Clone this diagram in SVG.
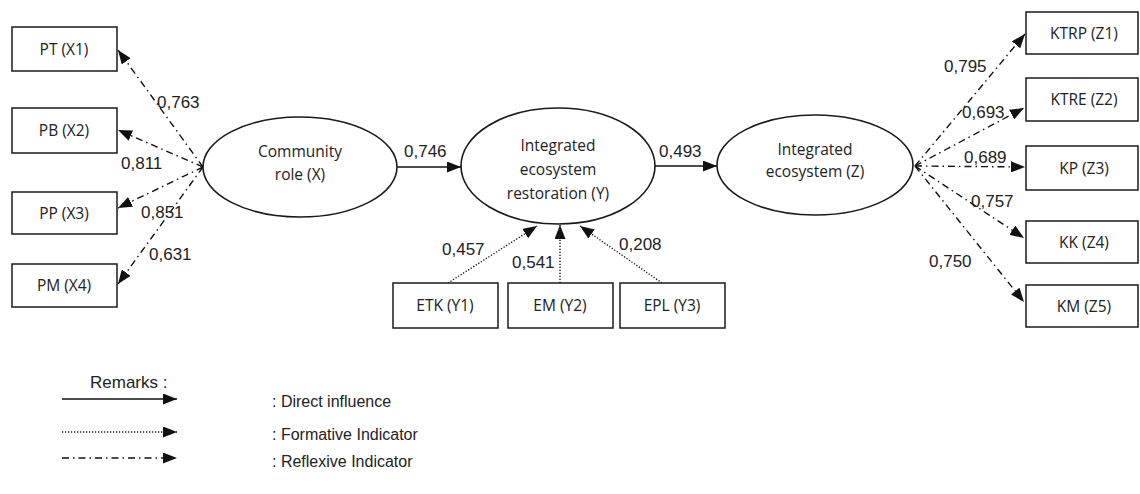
<svg xmlns="http://www.w3.org/2000/svg" width="1140" height="494" viewBox="0 0 1140 494">
<style>
.box{fill:#fff;stroke:#1a1a1a;stroke-width:1.5}
.ell{fill:#fff;stroke:#1a1a1a;stroke-width:1.6}
.nt{font-family:"Open Sans","Noto Sans",sans-serif;font-size:15.5px;fill:#222;text-anchor:middle}
.lb{font-family:"Liberation Sans",Arial,sans-serif;font-size:17px;fill:#222}
.lg{font-family:"Liberation Sans",Arial,sans-serif;font-size:16px;fill:#222}
.solid{stroke:#111;stroke-width:1.6;fill:none}
.dot{stroke:#111;stroke-width:1.4;fill:none;stroke-dasharray:1.2 1.8}
.dd{stroke:#111;stroke-width:1.4;fill:none;stroke-dasharray:7 4 1.5 4}
</style>
<defs>
<marker id="ah" viewBox="0 0 14 11" refX="14" refY="5.5" markerWidth="14" markerHeight="11" markerUnits="userSpaceOnUse" orient="auto">
<path d="M0,0 L14,5.5 L0,11 z" fill="#111"/>
</marker>
</defs>

<g id="connectors">
<line class="dd" x1="203" y1="167" x2="118" y2="50" marker-end="url(#ah)"/>
<line class="dd" x1="203" y1="167" x2="118" y2="130" marker-end="url(#ah)"/>
<line class="dd" x1="203" y1="167" x2="118" y2="208" marker-end="url(#ah)"/>
<line class="dd" x1="203" y1="167" x2="118" y2="284" marker-end="url(#ah)"/>
<line class="solid" x1="397" y1="167" x2="461" y2="167" marker-end="url(#ah)"/>
<line class="solid" x1="655" y1="166" x2="717" y2="166" marker-end="url(#ah)"/>
<line class="dot" x1="448" y1="283" x2="537" y2="226" marker-end="url(#ah)"/>
<line class="dot" x1="560" y1="283" x2="560" y2="225" marker-end="url(#ah)"/>
<line class="dot" x1="662" y1="283" x2="580" y2="226" marker-end="url(#ah)"/>
<line class="dd" x1="915" y1="166" x2="1025" y2="34" marker-end="url(#ah)"/>
<line class="dd" x1="915" y1="166" x2="1024" y2="108" marker-end="url(#ah)"/>
<line class="dd" x1="915" y1="166" x2="1025" y2="167" marker-end="url(#ah)"/>
<line class="dd" x1="915" y1="166" x2="1024" y2="238" marker-end="url(#ah)"/>
<line class="dd" x1="915" y1="166" x2="1024" y2="302" marker-end="url(#ah)"/>
</g>

<g id="X1"><rect class="box" x="12" y="27" width="105" height="44"/><text class="nt" x="64" y="55">PT (X1)</text></g>
<g id="X2"><rect class="box" x="12" y="108" width="105" height="45"/><text class="nt" x="64" y="136">PB (X2)</text></g>
<g id="X3"><rect class="box" x="12" y="192" width="105" height="42"/><text class="nt" x="64" y="219">PP (X3)</text></g>
<g id="X4"><rect class="box" x="12" y="264" width="105" height="43"/><text class="nt" x="64" y="291">PM (X4)</text></g>

<g id="X"><ellipse class="ell" cx="300" cy="167" rx="97" ry="50"/><text class="nt" x="300" y="157">Community</text><text class="nt" x="300" y="180">role (X)</text></g>
<g id="Y"><ellipse class="ell" cx="558" cy="166" rx="97" ry="58"/><text class="nt" x="558" y="151">Integrated</text><text class="nt" x="558" y="175">ecosystem</text><text class="nt" x="558" y="199">restoration (Y)</text></g>
<g id="Z"><ellipse class="ell" cx="815" cy="165" rx="98" ry="50"/><text class="nt" x="815" y="155">Integrated</text><text class="nt" x="815" y="177">ecosystem (Z)</text></g>

<g id="Y1"><rect class="box" x="393" y="283" width="105" height="45"/><text class="nt" x="445" y="311">ETK (Y1)</text></g>
<g id="Y2"><rect class="box" x="508" y="283" width="105" height="45"/><text class="nt" x="560" y="311">EM (Y2)</text></g>
<g id="Y3"><rect class="box" x="620" y="283" width="105" height="45"/><text class="nt" x="672" y="311">EPL (Y3)</text></g>

<g id="Z1"><rect class="box" x="1026" y="12" width="112" height="42"/><text class="nt" x="1084" y="39">KTRP (Z1)</text></g>
<g id="Z2"><rect class="box" x="1026" y="78" width="112" height="43"/><text class="nt" x="1084" y="105">KTRE (Z2)</text></g>
<g id="Z3"><rect class="box" x="1026" y="146" width="112" height="44"/><text class="nt" x="1084" y="174">KP (Z3)</text></g>
<g id="Z4"><rect class="box" x="1026" y="221" width="112" height="42"/><text class="nt" x="1084" y="248">KK (Z4)</text></g>
<g id="Z5"><rect class="box" x="1026" y="285" width="112" height="42"/><text class="nt" x="1084" y="312">KM (Z5)</text></g>

<g id="labels">
<text class="lb" x="157" y="108">0,763</text>
<text class="lb" x="121" y="169">0,811</text>
<text class="lb" x="141" y="218">0,851</text>
<text class="lb" x="149" y="260">0,631</text>
<text class="lb" x="404" y="157">0,746</text>
<text class="lb" x="659" y="157">0,493</text>
<text class="lb" x="442" y="255">0,457</text>
<text class="lb" x="512" y="268">0,541</text>
<text class="lb" x="619" y="250">0,208</text>
<text class="lb" x="944" y="72">0,795</text>
<text class="lb" x="962" y="118">0,693</text>
<text class="lb" x="964" y="163">0,689</text>
<text class="lb" x="971" y="207">0,757</text>
<text class="lb" x="929" y="267">0,750</text>
</g>

<g id="legend">
<text class="lb" x="90" y="388">Remarks :</text>
<line class="solid" x1="62" y1="399" x2="177" y2="399" marker-end="url(#ah)"/>
<text class="lg" x="272" y="407">: Direct influence</text>
<line class="dot" x1="62" y1="432" x2="177" y2="432" marker-end="url(#ah)"/>
<text class="lg" x="272" y="440">: Formative Indicator</text>
<line class="dd" x1="62" y1="458" x2="177" y2="458" marker-end="url(#ah)"/>
<text class="lg" x="272" y="467">: Reflexive Indicator</text>
</g>
</svg>
